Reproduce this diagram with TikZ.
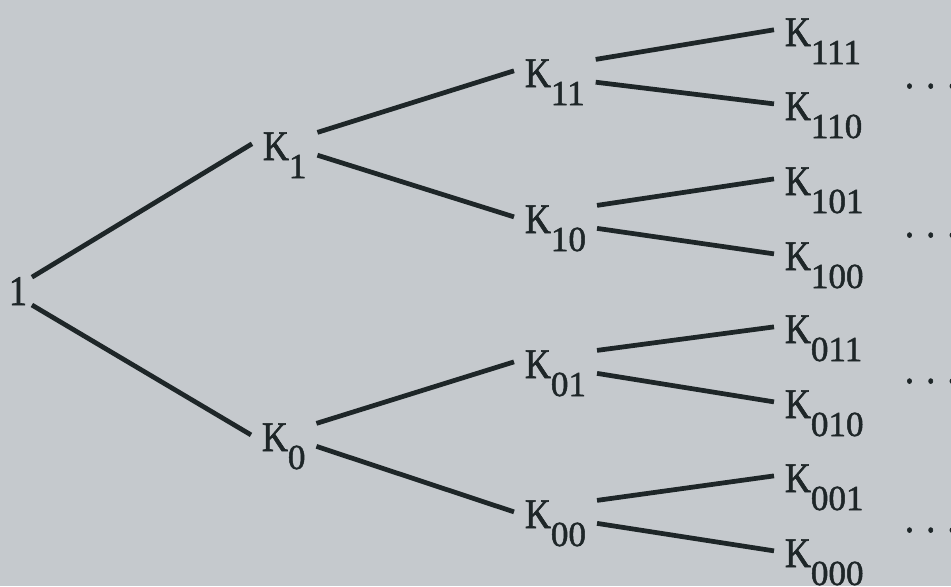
\documentclass[tikz,border=0pt]{standalone}
\usepackage{fontspec}
\setmainfont[FakeStretch=0.85,FakeBold=1.4]{Liberation Serif}
\newfontfamily\subfont[FakeBold=1.4]{Liberation Serif}
\usetikzlibrary{calc}
\definecolor{paper}{RGB}{197,201,205}
\definecolor{ink}{RGB}{30,38,40}
\newcommand{\ksub}[1]{K\raisebox{-0.36cm}{\subfont\fontsize{20}{20}\selectfont #1}}

\begin{document}
\begin{tikzpicture}[x=0.02cm,y=-0.02cm,
knode/.style={anchor=base west,inner xsep=0.22cm,inner ysep=0pt,outer sep=0pt,text=ink},
edge/.style={draw=ink,line width=2.7pt},
every node/.style={font=\fontsize{24}{28}\selectfont}]
\fill[paper] (0,0) rectangle (951,586);
\useasboundingbox (0,0) rectangle (951,586);
\node[knode,inner xsep=0.1cm] (r) at (4,305) {1};
\node[knode] (K1) at (252,160) {\ksub{1}};
\node[knode] (K0) at (251,451) {\ksub{0}};
\node[knode] (K11) at (514,87) {\ksub{11}};
\node[knode] (K10) at (514,233) {\ksub{10}};
\node[knode] (K01) at (514,378) {\ksub{01}};
\node[knode] (K00) at (514,528) {\ksub{00}};
\node[knode] (K111) at (774,46) {\ksub{111}};
\node[knode] (K110) at (774,120) {\ksub{110}};
\node[knode] (K101) at (774,195) {\ksub{101}};
\node[knode] (K100) at (774,270) {\ksub{100}};
\node[knode] (K011) at (774,343) {\ksub{011}};
\node[knode] (K010) at (774,418) {\ksub{010}};
\node[knode] (K001) at (774,492) {\ksub{001}};
\node[knode] (K000) at (774,567) {\ksub{000}};
% dots at the right edge
\node[knode,inner sep=0pt] (d1) at (905,88) {.\hskip7pt.\hskip7pt.};
\node[knode,inner sep=0pt] (d2) at (905,237) {.\hskip7pt.\hskip7pt.};
\node[knode,inner sep=0pt] (d3) at (905,383) {.\hskip7pt.\hskip7pt.};
\node[knode,inner sep=0pt] (d4) at (905,532) {.\hskip7pt.\hskip7pt.};
\foreach \p/\a/\c in {r/north east/K1,r/south east/K0,
  K1/north east/K11,K1/east/K10,K0/north east/K01,K0/east/K00,
  K11/north east/K111,K11/east/K110,K10/north east/K101,K10/east/K100,
  K01/north east/K011,K01/east/K010,K00/north east/K001,K00/east/K000}
  \draw[edge] (\p.\a) -- ($(\c.north west)!.25!(\c.south west)$);
\end{tikzpicture}
\end{document}
